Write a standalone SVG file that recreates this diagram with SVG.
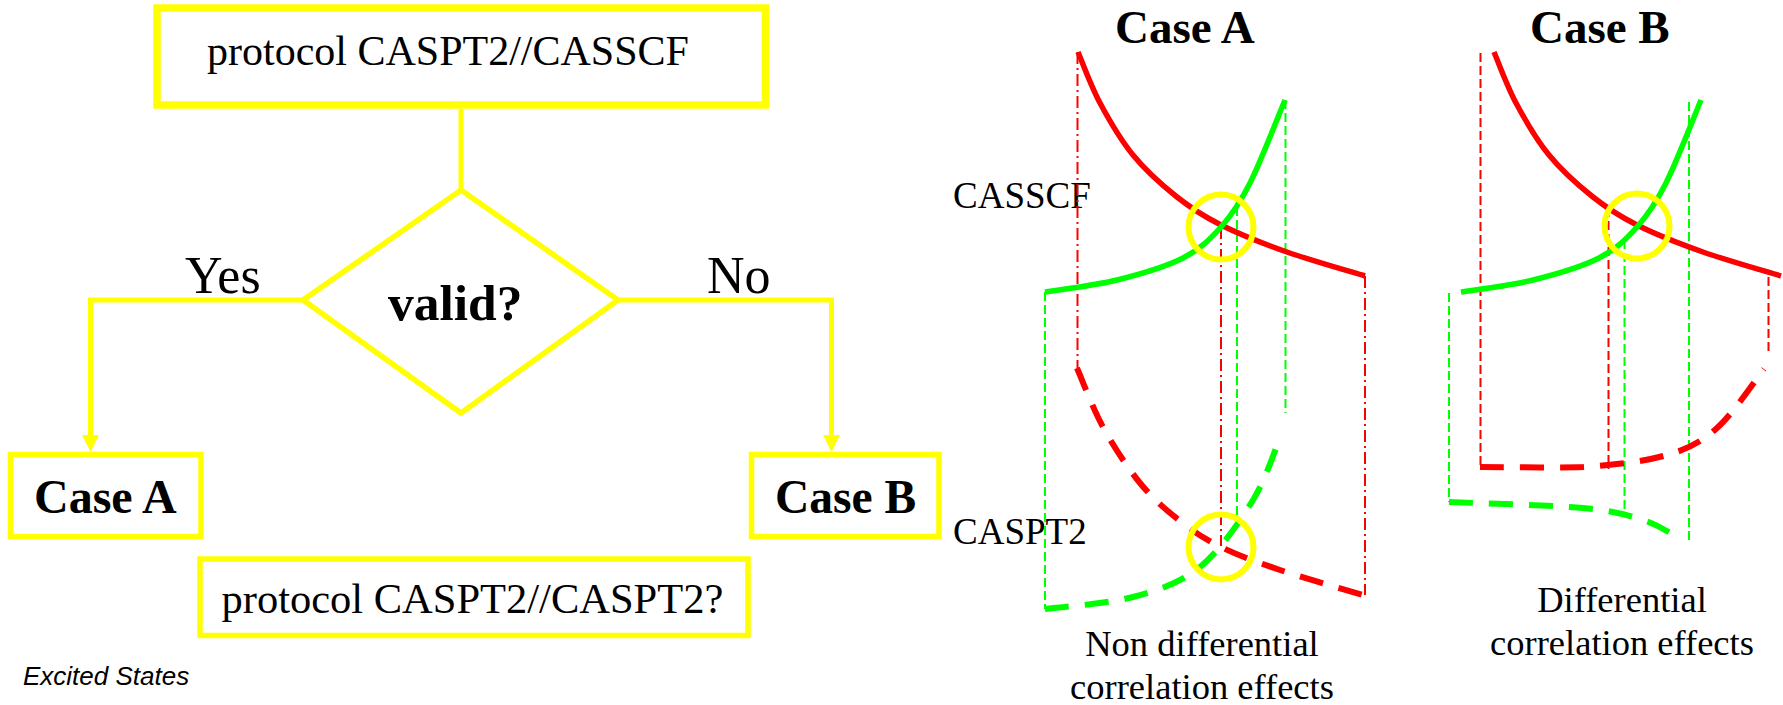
<svg xmlns="http://www.w3.org/2000/svg" width="1783" height="705" viewBox="0 0 1783 705">
<style>
.box{fill:#fff;stroke:#ffff00;stroke-width:5.5}
.conn{fill:none;stroke:#ffff00;stroke-width:5;stroke-linejoin:miter}
.serif{font-family:"Liberation Serif","Times New Roman",serif;fill:#000}
.bold{font-weight:bold}
.sans{font-family:"Liberation Sans",Arial,sans-serif;fill:#000}
.solidR{fill:none;stroke:#ff0000;stroke-width:5.5}
.solidG{fill:none;stroke:#00ff00;stroke-width:5.5}
.dashR{fill:none;stroke:#ff0000;stroke-width:6;stroke-dasharray:24,16}
.dashG{fill:none;stroke:#00ff00;stroke-width:6;stroke-dasharray:24,16}
.thinRdd{fill:none;stroke:#ff0000;stroke-width:2;stroke-dasharray:12,4,2,4}
.thinR{fill:none;stroke:#ff0000;stroke-width:2;stroke-dasharray:9,4}
.thinG{fill:none;stroke:#00ff00;stroke-width:2;stroke-dasharray:9,4}
.ring{fill:none;stroke:#ffff00;stroke-width:6}
</style>
<defs>
<marker id="arrow" markerUnits="userSpaceOnUse" markerWidth="17" markerHeight="17" refX="5" refY="8.5" orient="auto">
<path d="M0,0 L17,8.5 L0,17 z" fill="#ffff00"/>
</marker>
<path id="redTop" d="M1078,52 C1081.7,60.5 1090.8,85.8 1100,103 C1109.2,120.2 1120.2,139.3 1133,155 C1145.8,170.7 1162.3,185.3 1177,197 C1191.7,208.7 1202.7,215.8 1221,225 C1239.3,234.2 1263,243.5 1287,252 C1311,260.5 1352,272 1365,276"/>
<path id="greenTop" d="M1045,292 C1057,290 1094,285.7 1117,280 C1140,274.3 1165.7,266.8 1183,258 C1200.3,249.2 1209.8,239.5 1221,227 C1232.2,214.5 1239.3,204.2 1250,183 C1260.7,161.8 1279.2,113.8 1285,100"/>
</defs>
<rect width="1783" height="705" fill="#fff"/>

<g id="connectors">
<path class="conn" d="M461,109 V190"/>
<path class="conn" d="M303,300 H90.5 V440" marker-end="url(#arrow)"/>
<path class="conn" d="M618,300 H831.5 V440" marker-end="url(#arrow)"/>
<text class="serif" x="185" y="293" font-size="52">Yes</text>
<text class="serif" x="707" y="293" font-size="52">No</text>
</g>

<g id="node-protocol-casscf">
<rect class="box" x="157" y="8" width="608.5" height="97" style="stroke-width:7.5"/>
<text class="serif" x="207" y="65" font-size="42">protocol CASPT2//CASSCF</text>
</g>

<g id="node-valid">
<polygon class="box" points="461,190 618,300 461,413 303,300"/>
<text class="serif bold" x="388" y="320" font-size="51.5">valid?</text>
</g>

<g id="node-caseA">
<rect class="box" x="10.5" y="454.5" width="190.5" height="82"/>
<text class="serif bold" x="34" y="513" font-size="48">Case A</text>
</g>

<g id="node-caseB">
<rect class="box" x="751.5" y="454.5" width="187.5" height="82"/>
<text class="serif bold" x="775" y="513" font-size="47.5">Case B</text>
</g>

<g id="node-protocol-caspt2">
<rect class="box" x="200" y="559" width="548" height="76.5"/>
<text class="serif" x="221.5" y="613" font-size="42.5">protocol CASPT2//CASPT2?</text>
</g>

<text id="footer" class="sans" x="23" y="685" font-size="26" font-style="italic">Excited States</text>

<g id="panel-caseA">
<text class="serif bold" x="1115" y="43" font-size="47">Case A</text>
<text class="serif" x="953" y="208" font-size="37">CASSCF</text>
<text class="serif" x="953" y="544" font-size="37">CASPT2</text>
<path class="thinRdd" d="M1077.5,52 V368"/>
<path class="thinG" d="M1045,292 V609"/>
<path class="thinRdd" d="M1221,227 V546"/>
<path class="thinG" d="M1237,207 V516"/>
<path class="thinG" d="M1285.5,100 V413"/>
<path class="thinRdd" d="M1365,276 V595"/>
<use href="#redTop" class="solidR"/>
<use href="#greenTop" class="solidG"/>
<path class="dashR" d="M1077,368 C1081.3,377.8 1092.5,407.8 1103,427 C1113.5,446.2 1127.2,467.3 1140,483 C1152.8,498.7 1166.5,510.3 1180,521 C1193.5,531.7 1204.3,538.8 1221,547 C1237.7,555.2 1256.3,562 1280,570 C1303.7,578 1349.2,590.8 1363,595"/>
<path class="dashG" d="M1045,609 C1059.7,607 1107.2,604 1133,597 C1158.8,590 1180,583.2 1200,567 C1220,550.8 1239.5,522 1253,500 C1266.5,478 1276.3,445.8 1281,435"/>
<circle class="ring" cx="1221" cy="227" r="32.5"/>
<circle class="ring" cx="1221" cy="547" r="32.5"/>
<text class="serif" x="1202" y="656" font-size="36.5" text-anchor="middle">Non differential</text>
<text class="serif" x="1202" y="699" font-size="36.5" text-anchor="middle">correlation effects</text>
</g>

<g id="panel-caseB">
<text class="serif bold" x="1530" y="43" font-size="47">Case B</text>
<path class="thinR" d="M1480.5,53 V467"/>
<path class="thinG" d="M1449,293 V502"/>
<path class="thinR" d="M1608.5,208 V469"/>
<path class="thinG" d="M1624.5,240 V512"/>
<path class="thinG" d="M1689,102 V542"/>
<path class="thinR" d="M1768.5,277 V354"/>
<use href="#redTop" class="solidR" transform="translate(416,0)"/>
<use href="#greenTop" class="solidG" transform="translate(416,0)"/>
<path class="dashR" d="M1480,467 C1497.2,467 1551.8,468 1583,467 C1614.2,465 1644.7,461.5 1667,455 C1689.3,448.5 1700.8,442.3 1717,428 C1733.2,413.7 1756.2,378.8 1764,369"/>
<path class="dashG" d="M1449,502 C1471.3,503 1550.7,505 1583,508 C1615.3,511 1627.3,515.2 1643,520 C1658.7,524.8 1671.3,534.2 1677,537"/>
<circle class="ring" cx="1637" cy="226" r="32.5"/>
<text class="serif" x="1622" y="612" font-size="36.5" text-anchor="middle">Differential</text>
<text class="serif" x="1622" y="655" font-size="36.5" text-anchor="middle">correlation effects</text>
</g>
</svg>
